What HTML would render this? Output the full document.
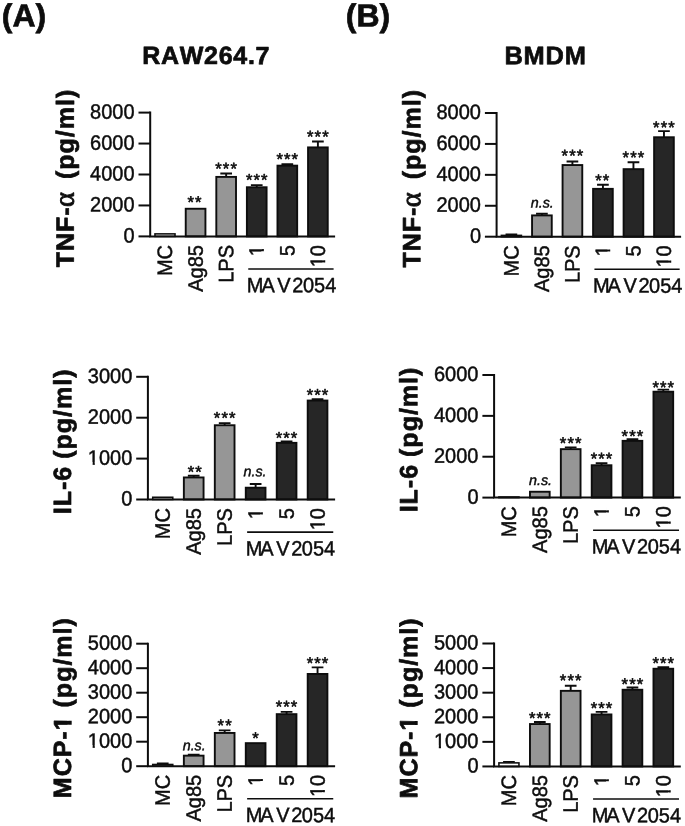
<!DOCTYPE html>
<html lang="en">
<head>
<meta charset="utf-8">
<title>Figure</title>
<style>
html,body{margin:0;padding:0;background:#fff;}
body{width:685px;height:826px;overflow:hidden;}
svg{display:block;font-kerning:none;text-rendering:geometricPrecision;}
text{font-kerning:none;stroke:#0d0d0d;stroke-linejoin:round;}
.r{stroke-width:0.45px;}
.b{font-weight:bold;stroke-width:0.7px;}
.yl{letter-spacing:1px;}
</style>
</head>
<body>
<svg width="685" height="826" viewBox="0 0 685 826"
 font-family='"Liberation Sans", Arial, Helvetica, sans-serif' fill="#0d0d0d">
<rect width="685" height="826" fill="#fff"/>
<text transform="translate(1.8 26.45) rotate(0.03)" font-size="32" class="b">(A)</text>
<text transform="translate(345.75 26.45) rotate(0.03)" font-size="32" class="b">(B)</text>
<text transform="translate(206.2 64.1) rotate(0.03)" font-size="25" class="b" text-anchor="middle" style="letter-spacing:0.7px">RAW264.7</text>
<text transform="translate(545.5 64.3) rotate(0.03)" font-size="25.4" class="b" text-anchor="middle" style="letter-spacing:0.8px">BMDM</text>
<g id="A1">
<rect x="154.97" y="233.88" width="20.05" height="2.53" fill="#ffffff" stroke="#0d0d0d" stroke-width="1.55"/>
<rect x="185.73" y="208.75" width="19.7" height="27.65" fill="#969696" stroke="#0d0d0d" stroke-width="1.9"/>
<text transform="translate(195 207.85) rotate(0.03) scale(1 1)" text-anchor="middle" font-size="16.6" class="r" style="stroke-width:0.6px;letter-spacing:1.1px">**</text>
<path d="M226.16 176.95V173.45M220.31 173.45H232.01" stroke="#0d0d0d" stroke-width="1.9" fill="none"/>
<rect x="216.31" y="176.9" width="19.7" height="59.5" fill="#969696" stroke="#0d0d0d" stroke-width="1.9"/>
<text transform="translate(226.66 174.25) rotate(0.03) scale(1 1)" text-anchor="middle" font-size="16.6" class="r" style="stroke-width:0.6px;letter-spacing:1.1px">***</text>
<path d="M256.74 187.3V185.15M250.89 185.15H262.59" stroke="#0d0d0d" stroke-width="1.9" fill="none"/>
<rect x="246.89" y="187.25" width="19.7" height="49.15" fill="#262626" stroke="#0d0d0d" stroke-width="1.9"/>
<text transform="translate(257.24 185.55) rotate(0.03) scale(1 1)" text-anchor="middle" font-size="16.6" class="r" style="stroke-width:0.6px;letter-spacing:1.1px">***</text>
<path d="M287.32 165.7V164.1M281.47 164.1H293.17" stroke="#0d0d0d" stroke-width="1.9" fill="none"/>
<rect x="277.47" y="165.65" width="19.7" height="70.75" fill="#262626" stroke="#0d0d0d" stroke-width="1.9"/>
<text transform="translate(287.82 164.75) rotate(0.03) scale(1 1)" text-anchor="middle" font-size="16.6" class="r" style="stroke-width:0.6px;letter-spacing:1.1px">***</text>
<path d="M317.9 147.45V141.5M312.05 141.5H323.75" stroke="#0d0d0d" stroke-width="1.9" fill="none"/>
<rect x="308.05" y="147.4" width="19.7" height="89" fill="#262626" stroke="#0d0d0d" stroke-width="1.9"/>
<text transform="translate(318.4 142.15) rotate(0.03) scale(1 1)" text-anchor="middle" font-size="16.6" class="r" style="stroke-width:0.6px;letter-spacing:1.1px">***</text>
<path d="M150.2 111.6V237.4M149.2 236.4H335.1" stroke="#0d0d0d" stroke-width="2.0" fill="none"/>
<path d="M138.5 236.4H150.2" stroke="#0d0d0d" stroke-width="2.0"/>
<text transform="translate(134.6 242.5) rotate(0.03) scale(1 1.045)" text-anchor="end" font-size="20" class="r">0</text>
<path d="M138.5 205.45H150.2" stroke="#0d0d0d" stroke-width="2.0"/>
<text transform="translate(134.6 211.55) rotate(0.03) scale(1 1.045)" text-anchor="end" font-size="20" class="r">2000</text>
<path d="M138.5 174.5H150.2" stroke="#0d0d0d" stroke-width="2.0"/>
<text transform="translate(134.6 180.6) rotate(0.03) scale(1 1.045)" text-anchor="end" font-size="20" class="r">4000</text>
<path d="M138.5 143.55H150.2" stroke="#0d0d0d" stroke-width="2.0"/>
<text transform="translate(134.6 149.65) rotate(0.03) scale(1 1.045)" text-anchor="end" font-size="20" class="r">6000</text>
<path d="M138.5 112.6H150.2" stroke="#0d0d0d" stroke-width="2.0"/>
<text transform="translate(134.6 118.7) rotate(0.03) scale(1 1.045)" text-anchor="end" font-size="20" class="r">8000</text>
<text transform="translate(172.1 245) rotate(-89.97) scale(1 1.045)" text-anchor="end" font-size="20" class="r">MC</text>
<text transform="translate(202.68 245) rotate(-89.97) scale(1 1.045)" text-anchor="end" font-size="20" class="r">Ag85</text>
<text transform="translate(233.26 245) rotate(-89.97) scale(1 1.045)" text-anchor="end" font-size="20" class="r">LPS</text>
<text transform="translate(263.84 245) rotate(-89.97) scale(1 1.045)" text-anchor="end" font-size="20" class="r">1</text>
<g transform="translate(263.84 245) rotate(-89.97) scale(1 1.045)" fill="#fff"><rect x="-10.73" y="-2.37" width="4.41" height="3.55"/><rect x="-4.1" y="-2.37" width="4.25" height="3.55"/></g>
<text transform="translate(294.42 245) rotate(-89.97) scale(1 1.045)" text-anchor="end" font-size="20" class="r">5</text>
<text transform="translate(325 245) rotate(-89.97) scale(1 1.045)" text-anchor="end" font-size="20" class="r">10</text>
<g transform="translate(325 245) rotate(-89.97) scale(1 1.045)" fill="#fff"><rect x="-21.85" y="-2.37" width="4.41" height="3.55"/><rect x="-15.22" y="-2.37" width="4.25" height="3.55"/></g>
<path d="M248.24 269H333.6" stroke="#0d0d0d" stroke-width="1.6"/>
<text transform="translate(246.84 292.3) rotate(0.03) scale(1 1.045)" font-size="20" class="r">M<tspan dx="-2.1">A</tspan><tspan dx="2.5">V</tspan><tspan dx="1.7">2</tspan><tspan dx="-0.5">0</tspan>54</text>
<text transform="translate(73.8 267.3) rotate(-89.97)" font-size="25" class="b yl">TNF-<tspan x="60.3" style='font-family:"Liberation Serif","DejaVu Serif",serif;font-weight:normal;font-size:28.5px;stroke-width:0.9px;letter-spacing:0'>α</tspan> <tspan x="88.3">(pg/ml)</tspan></text>
</g>
<g id="A2">
<rect x="152.72" y="497.27" width="20.05" height="2.23" fill="#ffffff" stroke="#0d0d0d" stroke-width="1.55"/>
<path d="M193.71 477.5V475.8M187.86 475.8H199.56" stroke="#0d0d0d" stroke-width="1.9" fill="none"/>
<rect x="183.86" y="477.45" width="19.7" height="22.05" fill="#969696" stroke="#0d0d0d" stroke-width="1.9"/>
<text transform="translate(195.2 477.45) rotate(0.03) scale(1 1)" text-anchor="middle" font-size="16.6" class="r" style="stroke-width:0.6px;letter-spacing:1.1px">**</text>
<path d="M224.67 425.3V423.1M218.82 423.1H230.52" stroke="#0d0d0d" stroke-width="1.9" fill="none"/>
<rect x="214.82" y="425.25" width="19.7" height="74.25" fill="#969696" stroke="#0d0d0d" stroke-width="1.9"/>
<text transform="translate(225.17 423.45) rotate(0.03) scale(1 1)" text-anchor="middle" font-size="16.6" class="r" style="stroke-width:0.6px;letter-spacing:1.1px">***</text>
<path d="M255.63 487.75V484M249.78 484H261.48" stroke="#0d0d0d" stroke-width="1.9" fill="none"/>
<rect x="245.78" y="487.7" width="19.7" height="11.8" fill="#262626" stroke="#0d0d0d" stroke-width="1.9"/>
<text transform="translate(255 476.2) rotate(0.03) scale(1 1.0)" text-anchor="middle" font-size="14.3" class="r" font-style="italic">n.s.</text>
<path d="M286.59 442.9V441.4M280.74 441.4H292.44" stroke="#0d0d0d" stroke-width="1.9" fill="none"/>
<rect x="276.74" y="442.85" width="19.7" height="56.65" fill="#262626" stroke="#0d0d0d" stroke-width="1.9"/>
<text transform="translate(287.09 443.45) rotate(0.03) scale(1 1)" text-anchor="middle" font-size="16.6" class="r" style="stroke-width:0.6px;letter-spacing:1.1px">***</text>
<path d="M317.55 400.6V399.2M311.7 399.2H323.4" stroke="#0d0d0d" stroke-width="1.9" fill="none"/>
<rect x="307.7" y="400.55" width="19.7" height="98.95" fill="#262626" stroke="#0d0d0d" stroke-width="1.9"/>
<text transform="translate(318.05 400.5) rotate(0.03) scale(1 1)" text-anchor="middle" font-size="16.6" class="r" style="stroke-width:0.6px;letter-spacing:1.1px">***</text>
<path d="M147.9 375.8V500.5M146.9 499.5H335.1" stroke="#0d0d0d" stroke-width="2.0" fill="none"/>
<path d="M136.2 499.5H147.9" stroke="#0d0d0d" stroke-width="2.0"/>
<text transform="translate(132.3 505.6) rotate(0.03) scale(1 1.045)" text-anchor="end" font-size="20" class="r">0</text>
<path d="M136.2 458.6H147.9" stroke="#0d0d0d" stroke-width="2.0"/>
<text transform="translate(132.3 464.7) rotate(0.03) scale(1 1.045)" text-anchor="end" font-size="20" class="r">1000</text>
<g transform="translate(132.3 464.7) rotate(0.03) scale(1 1.045)" fill="#fff"><rect x="-44.1" y="-2.37" width="4.41" height="3.55"/><rect x="-37.47" y="-2.37" width="4.25" height="3.55"/></g>
<path d="M136.2 417.7H147.9" stroke="#0d0d0d" stroke-width="2.0"/>
<text transform="translate(132.3 423.8) rotate(0.03) scale(1 1.045)" text-anchor="end" font-size="20" class="r">2000</text>
<path d="M136.2 376.8H147.9" stroke="#0d0d0d" stroke-width="2.0"/>
<text transform="translate(132.3 382.9) rotate(0.03) scale(1 1.045)" text-anchor="end" font-size="20" class="r">3000</text>
<text transform="translate(169.85 508.1) rotate(-89.97) scale(1 1.045)" text-anchor="end" font-size="20" class="r">MC</text>
<text transform="translate(200.81 508.1) rotate(-89.97) scale(1 1.045)" text-anchor="end" font-size="20" class="r">Ag85</text>
<text transform="translate(231.77 508.1) rotate(-89.97) scale(1 1.045)" text-anchor="end" font-size="20" class="r">LPS</text>
<text transform="translate(262.73 508.1) rotate(-89.97) scale(1 1.045)" text-anchor="end" font-size="20" class="r">1</text>
<g transform="translate(262.73 508.1) rotate(-89.97) scale(1 1.045)" fill="#fff"><rect x="-10.73" y="-2.37" width="4.41" height="3.55"/><rect x="-4.1" y="-2.37" width="4.25" height="3.55"/></g>
<text transform="translate(293.69 508.1) rotate(-89.97) scale(1 1.045)" text-anchor="end" font-size="20" class="r">5</text>
<text transform="translate(324.65 508.1) rotate(-89.97) scale(1 1.045)" text-anchor="end" font-size="20" class="r">10</text>
<g transform="translate(324.65 508.1) rotate(-89.97) scale(1 1.045)" fill="#fff"><rect x="-21.85" y="-2.37" width="4.41" height="3.55"/><rect x="-15.22" y="-2.37" width="4.25" height="3.55"/></g>
<path d="M247.13 532.1H333.25" stroke="#0d0d0d" stroke-width="1.6"/>
<text transform="translate(245.73 555.4) rotate(0.03) scale(1 1.045)" font-size="20" class="r">M<tspan dx="-2.1">A</tspan><tspan dx="2.5">V</tspan><tspan dx="1.7">2</tspan><tspan dx="-0.5">0</tspan>54</text>
<text transform="translate(71.1 514.25) rotate(-89.97)" font-size="25" class="b yl">IL-6 <tspan x="55.4">(pg/ml)</tspan></text>
</g>
<g id="A3">
<path d="M162.75 764.7V763.5M156.9 763.5H168.6" stroke="#0d0d0d" stroke-width="1.9" fill="none"/>
<rect x="152.72" y="764.48" width="20.05" height="1.73" fill="#ffffff" stroke="#0d0d0d" stroke-width="1.55"/>
<path d="M193.71 755.7V754.7M187.86 754.7H199.56" stroke="#0d0d0d" stroke-width="1.9" fill="none"/>
<rect x="183.86" y="755.65" width="19.7" height="10.55" fill="#969696" stroke="#0d0d0d" stroke-width="1.9"/>
<text transform="translate(194.2 750.3) rotate(0.03) scale(1 1.0)" text-anchor="middle" font-size="14.3" class="r" font-style="italic">n.s.</text>
<path d="M224.67 733V730.4M218.82 730.4H230.52" stroke="#0d0d0d" stroke-width="1.9" fill="none"/>
<rect x="214.82" y="732.95" width="19.7" height="33.25" fill="#969696" stroke="#0d0d0d" stroke-width="1.9"/>
<text transform="translate(225.17 730.95) rotate(0.03) scale(1 1)" text-anchor="middle" font-size="16.6" class="r" style="stroke-width:0.6px;letter-spacing:1.1px">**</text>
<rect x="245.78" y="743.15" width="19.7" height="23.05" fill="#262626" stroke="#0d0d0d" stroke-width="1.9"/>
<text transform="translate(256.13 743.65) rotate(0.03) scale(1 1)" text-anchor="middle" font-size="16.6" class="r" style="stroke-width:0.6px;letter-spacing:1.1px">*</text>
<path d="M286.59 714.2V711.9M280.74 711.9H292.44" stroke="#0d0d0d" stroke-width="1.9" fill="none"/>
<rect x="276.74" y="714.15" width="19.7" height="52.05" fill="#262626" stroke="#0d0d0d" stroke-width="1.9"/>
<text transform="translate(287.09 712.35) rotate(0.03) scale(1 1)" text-anchor="middle" font-size="16.6" class="r" style="stroke-width:0.6px;letter-spacing:1.1px">***</text>
<path d="M317.55 674V667.4M311.7 667.4H323.4" stroke="#0d0d0d" stroke-width="1.9" fill="none"/>
<rect x="307.7" y="673.95" width="19.7" height="92.25" fill="#262626" stroke="#0d0d0d" stroke-width="1.9"/>
<text transform="translate(318.05 668.85) rotate(0.03) scale(1 1)" text-anchor="middle" font-size="16.6" class="r" style="stroke-width:0.6px;letter-spacing:1.1px">***</text>
<path d="M147.9 642.7V767.2M146.9 766.2H335.1" stroke="#0d0d0d" stroke-width="2.0" fill="none"/>
<path d="M136.2 766.2H147.9" stroke="#0d0d0d" stroke-width="2.0"/>
<text transform="translate(132.3 772.3) rotate(0.03) scale(1 1.045)" text-anchor="end" font-size="20" class="r">0</text>
<path d="M136.2 741.7H147.9" stroke="#0d0d0d" stroke-width="2.0"/>
<text transform="translate(132.3 747.8) rotate(0.03) scale(1 1.045)" text-anchor="end" font-size="20" class="r">1000</text>
<g transform="translate(132.3 747.8) rotate(0.03) scale(1 1.045)" fill="#fff"><rect x="-44.1" y="-2.37" width="4.41" height="3.55"/><rect x="-37.47" y="-2.37" width="4.25" height="3.55"/></g>
<path d="M136.2 717.2H147.9" stroke="#0d0d0d" stroke-width="2.0"/>
<text transform="translate(132.3 723.3) rotate(0.03) scale(1 1.045)" text-anchor="end" font-size="20" class="r">2000</text>
<path d="M136.2 692.7H147.9" stroke="#0d0d0d" stroke-width="2.0"/>
<text transform="translate(132.3 698.8) rotate(0.03) scale(1 1.045)" text-anchor="end" font-size="20" class="r">3000</text>
<path d="M136.2 668.2H147.9" stroke="#0d0d0d" stroke-width="2.0"/>
<text transform="translate(132.3 674.3) rotate(0.03) scale(1 1.045)" text-anchor="end" font-size="20" class="r">4000</text>
<path d="M136.2 643.7H147.9" stroke="#0d0d0d" stroke-width="2.0"/>
<text transform="translate(132.3 649.8) rotate(0.03) scale(1 1.045)" text-anchor="end" font-size="20" class="r">5000</text>
<text transform="translate(169.85 774.8) rotate(-89.97) scale(1 1.045)" text-anchor="end" font-size="20" class="r">MC</text>
<text transform="translate(200.81 774.8) rotate(-89.97) scale(1 1.045)" text-anchor="end" font-size="20" class="r">Ag85</text>
<text transform="translate(231.77 774.8) rotate(-89.97) scale(1 1.045)" text-anchor="end" font-size="20" class="r">LPS</text>
<text transform="translate(262.73 774.8) rotate(-89.97) scale(1 1.045)" text-anchor="end" font-size="20" class="r">1</text>
<g transform="translate(262.73 774.8) rotate(-89.97) scale(1 1.045)" fill="#fff"><rect x="-10.73" y="-2.37" width="4.41" height="3.55"/><rect x="-4.1" y="-2.37" width="4.25" height="3.55"/></g>
<text transform="translate(293.69 774.8) rotate(-89.97) scale(1 1.045)" text-anchor="end" font-size="20" class="r">5</text>
<text transform="translate(324.65 774.8) rotate(-89.97) scale(1 1.045)" text-anchor="end" font-size="20" class="r">10</text>
<g transform="translate(324.65 774.8) rotate(-89.97) scale(1 1.045)" fill="#fff"><rect x="-21.85" y="-2.37" width="4.41" height="3.55"/><rect x="-15.22" y="-2.37" width="4.25" height="3.55"/></g>
<path d="M247.13 798.8H333.25" stroke="#0d0d0d" stroke-width="1.6"/>
<text transform="translate(245.73 822.1) rotate(0.03) scale(1 1.045)" font-size="20" class="r">M<tspan dx="-2.1">A</tspan><tspan dx="2.5">V</tspan><tspan dx="1.7">2</tspan><tspan dx="-0.5">0</tspan>54</text>
<text transform="translate(71.1 798.2) rotate(-89.97)" font-size="25" class="b yl">MCP-1 (pg/ml)</text>
<g transform="translate(71.1 798.2) rotate(-89.97)" fill="#fff"><rect x="68.2" y="-3.55" width="5.16" height="4.85"/><rect x="77.49" y="-3.55" width="4.84" height="4.85"/></g>
</g>
<g id="B1">
<path d="M511.39 235.6V234.45M505.54 234.45H517.24" stroke="#0d0d0d" stroke-width="1.9" fill="none"/>
<rect x="501.37" y="235.38" width="20.05" height="1.32" fill="#ffffff" stroke="#0d0d0d" stroke-width="1.55"/>
<path d="M541.91 215.45V213.7M536.06 213.7H547.76" stroke="#0d0d0d" stroke-width="1.9" fill="none"/>
<rect x="532.06" y="215.4" width="19.7" height="21.3" fill="#969696" stroke="#0d0d0d" stroke-width="1.9"/>
<text transform="translate(542.3 207.4) rotate(0.03) scale(1 1.0)" text-anchor="middle" font-size="14.3" class="r" font-style="italic">n.s.</text>
<path d="M572.42 165.1V161.5M566.57 161.5H578.27" stroke="#0d0d0d" stroke-width="1.9" fill="none"/>
<rect x="562.57" y="165.05" width="19.7" height="71.65" fill="#969696" stroke="#0d0d0d" stroke-width="1.9"/>
<text transform="translate(572.92 161.35) rotate(0.03) scale(1 1)" text-anchor="middle" font-size="16.6" class="r" style="stroke-width:0.6px;letter-spacing:1.1px">***</text>
<path d="M602.93 188.9V184.8M597.08 184.8H608.78" stroke="#0d0d0d" stroke-width="1.9" fill="none"/>
<rect x="593.08" y="188.85" width="19.7" height="47.85" fill="#262626" stroke="#0d0d0d" stroke-width="1.9"/>
<text transform="translate(602.8 186.1) rotate(0.03) scale(1 1)" text-anchor="middle" font-size="16.6" class="r" style="stroke-width:0.6px;letter-spacing:1.1px">**</text>
<path d="M633.45 169.2V162.2M627.6 162.2H639.3" stroke="#0d0d0d" stroke-width="1.9" fill="none"/>
<rect x="623.6" y="169.15" width="19.7" height="67.55" fill="#262626" stroke="#0d0d0d" stroke-width="1.9"/>
<text transform="translate(633.95 163.05) rotate(0.03) scale(1 1)" text-anchor="middle" font-size="16.6" class="r" style="stroke-width:0.6px;letter-spacing:1.1px">***</text>
<path d="M663.96 137.3V131.1M658.11 131.1H669.81" stroke="#0d0d0d" stroke-width="1.9" fill="none"/>
<rect x="654.11" y="137.25" width="19.7" height="99.45" fill="#262626" stroke="#0d0d0d" stroke-width="1.9"/>
<text transform="translate(664.46 132.95) rotate(0.03) scale(1 1)" text-anchor="middle" font-size="16.6" class="r" style="stroke-width:0.6px;letter-spacing:1.1px">***</text>
<path d="M496.6 112V237.7M495.6 236.7H681.1" stroke="#0d0d0d" stroke-width="2.0" fill="none"/>
<path d="M484.9 236.7H496.6" stroke="#0d0d0d" stroke-width="2.0"/>
<text transform="translate(481 242.8) rotate(0.03) scale(1 1.045)" text-anchor="end" font-size="20" class="r">0</text>
<path d="M484.9 205.77H496.6" stroke="#0d0d0d" stroke-width="2.0"/>
<text transform="translate(481 211.87) rotate(0.03) scale(1 1.045)" text-anchor="end" font-size="20" class="r">2000</text>
<path d="M484.9 174.85H496.6" stroke="#0d0d0d" stroke-width="2.0"/>
<text transform="translate(481 180.95) rotate(0.03) scale(1 1.045)" text-anchor="end" font-size="20" class="r">4000</text>
<path d="M484.9 143.93H496.6" stroke="#0d0d0d" stroke-width="2.0"/>
<text transform="translate(481 150.03) rotate(0.03) scale(1 1.045)" text-anchor="end" font-size="20" class="r">6000</text>
<path d="M484.9 113H496.6" stroke="#0d0d0d" stroke-width="2.0"/>
<text transform="translate(481 119.1) rotate(0.03) scale(1 1.045)" text-anchor="end" font-size="20" class="r">8000</text>
<text transform="translate(518.49 245.3) rotate(-89.97) scale(1 1.045)" text-anchor="end" font-size="20" class="r">MC</text>
<text transform="translate(549.01 245.3) rotate(-89.97) scale(1 1.045)" text-anchor="end" font-size="20" class="r">Ag85</text>
<text transform="translate(579.52 245.3) rotate(-89.97) scale(1 1.045)" text-anchor="end" font-size="20" class="r">LPS</text>
<text transform="translate(610.03 245.3) rotate(-89.97) scale(1 1.045)" text-anchor="end" font-size="20" class="r">1</text>
<g transform="translate(610.03 245.3) rotate(-89.97) scale(1 1.045)" fill="#fff"><rect x="-10.73" y="-2.37" width="4.41" height="3.55"/><rect x="-4.1" y="-2.37" width="4.25" height="3.55"/></g>
<text transform="translate(640.55 245.3) rotate(-89.97) scale(1 1.045)" text-anchor="end" font-size="20" class="r">5</text>
<text transform="translate(671.06 245.3) rotate(-89.97) scale(1 1.045)" text-anchor="end" font-size="20" class="r">10</text>
<g transform="translate(671.06 245.3) rotate(-89.97) scale(1 1.045)" fill="#fff"><rect x="-21.85" y="-2.37" width="4.41" height="3.55"/><rect x="-15.22" y="-2.37" width="4.25" height="3.55"/></g>
<path d="M594.43 269.3H679.66" stroke="#0d0d0d" stroke-width="1.6"/>
<text transform="translate(593.03 292.6) rotate(0.03) scale(1 1.045)" font-size="20" class="r">M<tspan dx="-2.1">A</tspan><tspan dx="2.5">V</tspan><tspan dx="1.7">2</tspan><tspan dx="-0.5">0</tspan>54</text>
<text transform="translate(420.2 267.6) rotate(-89.97)" font-size="25" class="b yl">TNF-<tspan x="60.3" style='font-family:"Liberation Serif","DejaVu Serif",serif;font-weight:normal;font-size:28.5px;stroke-width:0.9px;letter-spacing:0'>α</tspan> <tspan x="88.3">(pg/ml)</tspan></text>
</g>
<g id="B2">
<rect x="498.91" y="496.97" width="20.05" height="0.63" fill="#ffffff" stroke="#0d0d0d" stroke-width="1.55"/>
<rect x="529.97" y="491.75" width="19.7" height="5.85" fill="#969696" stroke="#0d0d0d" stroke-width="1.9"/>
<text transform="translate(540.5 485) rotate(0.03) scale(1 1.0)" text-anchor="middle" font-size="14.3" class="r" font-style="italic">n.s.</text>
<path d="M570.69 449.2V447.4M564.84 447.4H576.54" stroke="#0d0d0d" stroke-width="1.9" fill="none"/>
<rect x="560.84" y="449.15" width="19.7" height="48.45" fill="#969696" stroke="#0d0d0d" stroke-width="1.9"/>
<text transform="translate(571.19 448.75) rotate(0.03) scale(1 1)" text-anchor="middle" font-size="16.6" class="r" style="stroke-width:0.6px;letter-spacing:1.1px">***</text>
<path d="M601.57 465.3V463.2M595.72 463.2H607.42" stroke="#0d0d0d" stroke-width="1.9" fill="none"/>
<rect x="591.72" y="465.25" width="19.7" height="32.35" fill="#262626" stroke="#0d0d0d" stroke-width="1.9"/>
<text transform="translate(602.07 464.25) rotate(0.03) scale(1 1)" text-anchor="middle" font-size="16.6" class="r" style="stroke-width:0.6px;letter-spacing:1.1px">***</text>
<path d="M632.45 440.9V439.3M626.6 439.3H638.3" stroke="#0d0d0d" stroke-width="1.9" fill="none"/>
<rect x="622.6" y="440.85" width="19.7" height="56.75" fill="#262626" stroke="#0d0d0d" stroke-width="1.9"/>
<text transform="translate(632.95 441.75) rotate(0.03) scale(1 1)" text-anchor="middle" font-size="16.6" class="r" style="stroke-width:0.6px;letter-spacing:1.1px">***</text>
<path d="M663.33 391.75V389.65M657.48 389.65H669.18" stroke="#0d0d0d" stroke-width="1.9" fill="none"/>
<rect x="653.48" y="391.7" width="19.7" height="105.9" fill="#262626" stroke="#0d0d0d" stroke-width="1.9"/>
<text transform="translate(663.83 392.95) rotate(0.03) scale(1 1)" text-anchor="middle" font-size="16.6" class="r" style="stroke-width:0.6px;letter-spacing:1.1px">***</text>
<path d="M494.1 374V498.6M493.1 497.6H680.8" stroke="#0d0d0d" stroke-width="2.0" fill="none"/>
<path d="M482.4 497.6H494.1" stroke="#0d0d0d" stroke-width="2.0"/>
<text transform="translate(478.5 503.7) rotate(0.03) scale(1 1.045)" text-anchor="end" font-size="20" class="r">0</text>
<path d="M482.4 456.73H494.1" stroke="#0d0d0d" stroke-width="2.0"/>
<text transform="translate(478.5 462.83) rotate(0.03) scale(1 1.045)" text-anchor="end" font-size="20" class="r">2000</text>
<path d="M482.4 415.87H494.1" stroke="#0d0d0d" stroke-width="2.0"/>
<text transform="translate(478.5 421.97) rotate(0.03) scale(1 1.045)" text-anchor="end" font-size="20" class="r">4000</text>
<path d="M482.4 375H494.1" stroke="#0d0d0d" stroke-width="2.0"/>
<text transform="translate(478.5 381.1) rotate(0.03) scale(1 1.045)" text-anchor="end" font-size="20" class="r">6000</text>
<text transform="translate(516.04 506.2) rotate(-89.97) scale(1 1.045)" text-anchor="end" font-size="20" class="r">MC</text>
<text transform="translate(546.92 506.2) rotate(-89.97) scale(1 1.045)" text-anchor="end" font-size="20" class="r">Ag85</text>
<text transform="translate(577.79 506.2) rotate(-89.97) scale(1 1.045)" text-anchor="end" font-size="20" class="r">LPS</text>
<text transform="translate(608.67 506.2) rotate(-89.97) scale(1 1.045)" text-anchor="end" font-size="20" class="r">1</text>
<g transform="translate(608.67 506.2) rotate(-89.97) scale(1 1.045)" fill="#fff"><rect x="-10.73" y="-2.37" width="4.41" height="3.55"/><rect x="-4.1" y="-2.37" width="4.25" height="3.55"/></g>
<text transform="translate(639.55 506.2) rotate(-89.97) scale(1 1.045)" text-anchor="end" font-size="20" class="r">5</text>
<text transform="translate(670.43 506.2) rotate(-89.97) scale(1 1.045)" text-anchor="end" font-size="20" class="r">10</text>
<g transform="translate(670.43 506.2) rotate(-89.97) scale(1 1.045)" fill="#fff"><rect x="-21.85" y="-2.37" width="4.41" height="3.55"/><rect x="-15.22" y="-2.37" width="4.25" height="3.55"/></g>
<path d="M593.07 530.2H679.03" stroke="#0d0d0d" stroke-width="1.6"/>
<text transform="translate(591.67 553.5) rotate(0.03) scale(1 1.045)" font-size="20" class="r">M<tspan dx="-2.1">A</tspan><tspan dx="2.5">V</tspan><tspan dx="1.7">2</tspan><tspan dx="-0.5">0</tspan>54</text>
<text transform="translate(417.3 512.35) rotate(-89.97)" font-size="25" class="b yl">IL-6 <tspan x="55.4">(pg/ml)</tspan></text>
</g>
<g id="B3">
<path d="M508.94 763.1V761.9M503.09 761.9H514.79" stroke="#0d0d0d" stroke-width="1.9" fill="none"/>
<rect x="498.91" y="762.88" width="20.05" height="3.58" fill="#ffffff" stroke="#0d0d0d" stroke-width="1.55"/>
<path d="M539.82 724.1V722M533.97 722H545.67" stroke="#0d0d0d" stroke-width="1.9" fill="none"/>
<rect x="529.97" y="724.05" width="19.7" height="42.4" fill="#969696" stroke="#0d0d0d" stroke-width="1.9"/>
<text transform="translate(540.32 723.65) rotate(0.03) scale(1 1)" text-anchor="middle" font-size="16.6" class="r" style="stroke-width:0.6px;letter-spacing:1.1px">***</text>
<path d="M570.69 690.9V685.8M564.84 685.8H576.54" stroke="#0d0d0d" stroke-width="1.9" fill="none"/>
<rect x="560.84" y="690.85" width="19.7" height="75.6" fill="#969696" stroke="#0d0d0d" stroke-width="1.9"/>
<text transform="translate(571.19 686.05) rotate(0.03) scale(1 1)" text-anchor="middle" font-size="16.6" class="r" style="stroke-width:0.6px;letter-spacing:1.1px">***</text>
<path d="M601.57 714.5V711.9M595.72 711.9H607.42" stroke="#0d0d0d" stroke-width="1.9" fill="none"/>
<rect x="591.72" y="714.45" width="19.7" height="52" fill="#262626" stroke="#0d0d0d" stroke-width="1.9"/>
<text transform="translate(602.07 713.75) rotate(0.03) scale(1 1)" text-anchor="middle" font-size="16.6" class="r" style="stroke-width:0.6px;letter-spacing:1.1px">***</text>
<path d="M632.45 689.8V687.5M626.6 687.5H638.3" stroke="#0d0d0d" stroke-width="1.9" fill="none"/>
<rect x="622.6" y="689.75" width="19.7" height="76.7" fill="#262626" stroke="#0d0d0d" stroke-width="1.9"/>
<text transform="translate(632.95 689.75) rotate(0.03) scale(1 1)" text-anchor="middle" font-size="16.6" class="r" style="stroke-width:0.6px;letter-spacing:1.1px">***</text>
<path d="M663.33 668.8V667.2M657.48 667.2H669.18" stroke="#0d0d0d" stroke-width="1.9" fill="none"/>
<rect x="653.48" y="668.75" width="19.7" height="97.7" fill="#262626" stroke="#0d0d0d" stroke-width="1.9"/>
<text transform="translate(663.83 668.85) rotate(0.03) scale(1 1)" text-anchor="middle" font-size="16.6" class="r" style="stroke-width:0.6px;letter-spacing:1.1px">***</text>
<path d="M494.1 642.5V767.45M493.1 766.45H680.8" stroke="#0d0d0d" stroke-width="2.0" fill="none"/>
<path d="M482.4 766.45H494.1" stroke="#0d0d0d" stroke-width="2.0"/>
<text transform="translate(478.5 772.55) rotate(0.03) scale(1 1.045)" text-anchor="end" font-size="20" class="r">0</text>
<path d="M482.4 741.86H494.1" stroke="#0d0d0d" stroke-width="2.0"/>
<text transform="translate(478.5 747.96) rotate(0.03) scale(1 1.045)" text-anchor="end" font-size="20" class="r">1000</text>
<g transform="translate(478.5 747.96) rotate(0.03) scale(1 1.045)" fill="#fff"><rect x="-44.1" y="-2.37" width="4.41" height="3.55"/><rect x="-37.47" y="-2.37" width="4.25" height="3.55"/></g>
<path d="M482.4 717.27H494.1" stroke="#0d0d0d" stroke-width="2.0"/>
<text transform="translate(478.5 723.37) rotate(0.03) scale(1 1.045)" text-anchor="end" font-size="20" class="r">2000</text>
<path d="M482.4 692.68H494.1" stroke="#0d0d0d" stroke-width="2.0"/>
<text transform="translate(478.5 698.78) rotate(0.03) scale(1 1.045)" text-anchor="end" font-size="20" class="r">3000</text>
<path d="M482.4 668.09H494.1" stroke="#0d0d0d" stroke-width="2.0"/>
<text transform="translate(478.5 674.19) rotate(0.03) scale(1 1.045)" text-anchor="end" font-size="20" class="r">4000</text>
<path d="M482.4 643.5H494.1" stroke="#0d0d0d" stroke-width="2.0"/>
<text transform="translate(478.5 649.6) rotate(0.03) scale(1 1.045)" text-anchor="end" font-size="20" class="r">5000</text>
<text transform="translate(516.04 775.05) rotate(-89.97) scale(1 1.045)" text-anchor="end" font-size="20" class="r">MC</text>
<text transform="translate(546.92 775.05) rotate(-89.97) scale(1 1.045)" text-anchor="end" font-size="20" class="r">Ag85</text>
<text transform="translate(577.79 775.05) rotate(-89.97) scale(1 1.045)" text-anchor="end" font-size="20" class="r">LPS</text>
<text transform="translate(608.67 775.05) rotate(-89.97) scale(1 1.045)" text-anchor="end" font-size="20" class="r">1</text>
<g transform="translate(608.67 775.05) rotate(-89.97) scale(1 1.045)" fill="#fff"><rect x="-10.73" y="-2.37" width="4.41" height="3.55"/><rect x="-4.1" y="-2.37" width="4.25" height="3.55"/></g>
<text transform="translate(639.55 775.05) rotate(-89.97) scale(1 1.045)" text-anchor="end" font-size="20" class="r">5</text>
<text transform="translate(670.43 775.05) rotate(-89.97) scale(1 1.045)" text-anchor="end" font-size="20" class="r">10</text>
<g transform="translate(670.43 775.05) rotate(-89.97) scale(1 1.045)" fill="#fff"><rect x="-21.85" y="-2.37" width="4.41" height="3.55"/><rect x="-15.22" y="-2.37" width="4.25" height="3.55"/></g>
<path d="M593.07 799.05H679.03" stroke="#0d0d0d" stroke-width="1.6"/>
<text transform="translate(591.67 822.35) rotate(0.03) scale(1 1.045)" font-size="20" class="r">M<tspan dx="-2.1">A</tspan><tspan dx="2.5">V</tspan><tspan dx="1.7">2</tspan><tspan dx="-0.5">0</tspan>54</text>
<text transform="translate(417.3 798.45) rotate(-89.97)" font-size="25" class="b yl">MCP-1 (pg/ml)</text>
<g transform="translate(417.3 798.45) rotate(-89.97)" fill="#fff"><rect x="68.2" y="-3.55" width="5.16" height="4.85"/><rect x="77.49" y="-3.55" width="4.84" height="4.85"/></g>
</g>
</svg>
</body>
</html>
